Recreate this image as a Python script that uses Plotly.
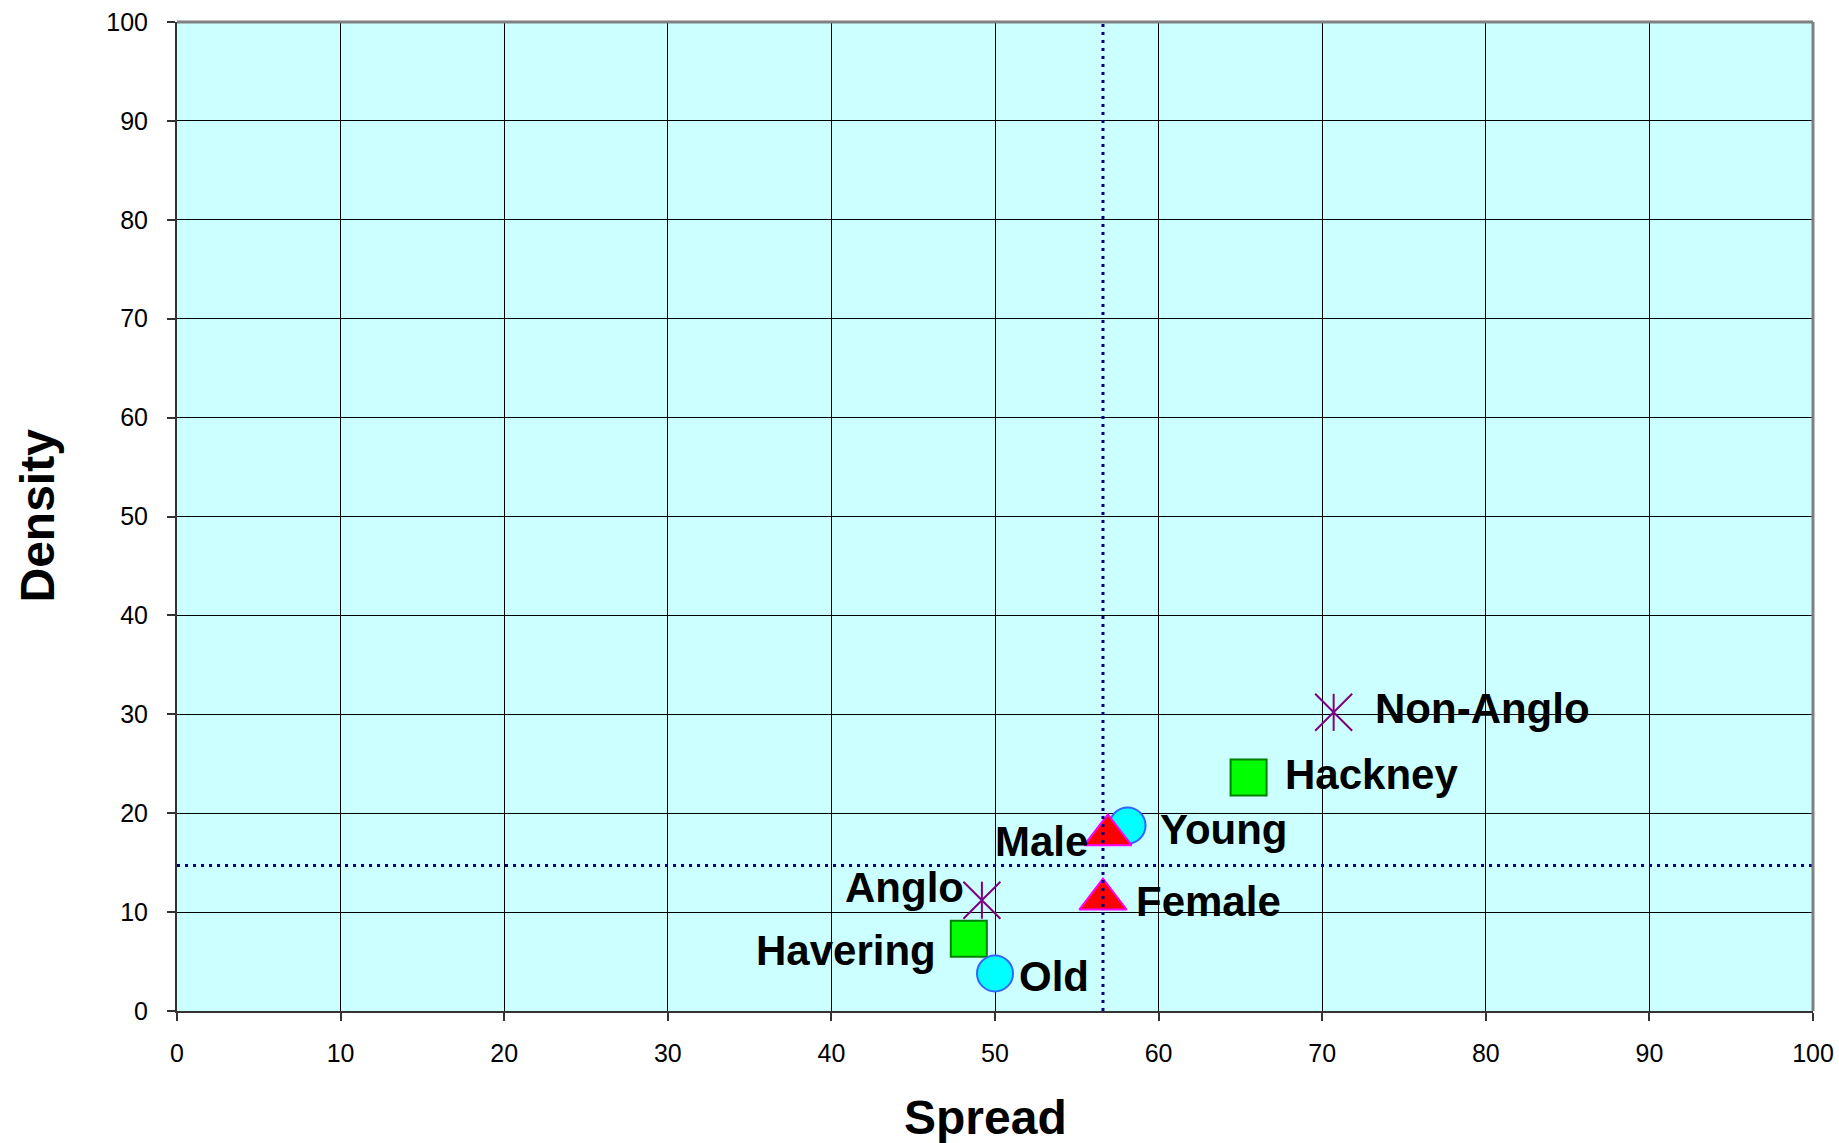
import plotly.graph_objects as go

# Spread vs density for each group (percent)
area_names = ["Havering", "Hackney"]
area_spread = [48.4, 65.5]
area_density = [7.3, 23.6]

age_names = ["Old", "Young"]
age_spread = [50.0, 58.1]
age_density = [3.8, 18.75]

sex_names = ["Male", "Female"]
sex_spread = [56.9, 56.6]
sex_density = [17.8, 11.3]

eth_names = ["Anglo", "Non-Anglo"]
eth_spread = [49.2, 70.7]
eth_density = [11.2, 30.2]

# Overall averages, drawn as dotted reference lines
mean_spread = 56.6
mean_density = 14.7

axis_ticks = list(range(0, 101, 10))

FONT = "Liberation Sans, Arial, sans-serif"

fig = go.Figure()

# Squares: boroughs
fig.add_trace(go.Scatter(
    x=area_spread, y=area_density, mode="markers", name="Area",
    marker=dict(symbol="square", size=36, color="#00FF00",
                line=dict(color="#008000", width=2)),
))
# Circles: age groups
fig.add_trace(go.Scatter(
    x=age_spread, y=age_density, mode="markers", name="Age",
    marker=dict(symbol="circle", size=36, color="#00FFFF",
                line=dict(color="#3366FF", width=2)),
))
# Triangles: sex
fig.add_trace(go.Scatter(
    x=sex_spread, y=sex_density, mode="markers", name="Sex",
    marker=dict(symbol="triangle-up", size=41, color="#FF0000",
                line=dict(color="#FF00FF", width=2)),
))
# Star markers: ethnicity (diagonal cross plus a vertical stroke)
fig.add_trace(go.Scatter(
    x=eth_spread, y=eth_density, mode="markers", name="Ethnicity",
    marker=dict(symbol="x-thin-open", size=37, color="#800080",
                line=dict(color="#800080", width=2)),
))
fig.add_trace(go.Scatter(
    x=eth_spread, y=eth_density, mode="markers", name="Ethnicity",
    showlegend=False, hoverinfo="skip",
    marker=dict(symbol="line-ns-open", size=26.5, color="#800080",
                line=dict(color="#800080", width=2)),
))

# Label placement: (anchor side, x shift px, y shift px)
label_place = {
    "Havering": ("right", -31, -12),
    "Hackney": ("left", 34, 3),
    "Old": ("left", 22, -3),
    "Young": ("left", 30, -4),
    "Male": ("right", -18, -7),
    "Female": ("left", 31, -2),
    "Anglo": ("right", -16, 13),
    "Non-Anglo": ("left", 39, 4),
}

annotations = []
for names, xs, ys in [(area_names, area_spread, area_density),
                      (age_names, age_spread, age_density),
                      (sex_names, sex_spread, sex_density),
                      (eth_names, eth_spread, eth_density)]:
    for n, xv, yv in zip(names, xs, ys):
        side, dx, dy = label_place[n]
        annotations.append(dict(
            x=xv, y=yv, xref="x", yref="y", text=n, showarrow=False,
            xanchor=side, yanchor="middle", xshift=dx, yshift=dy,
            font=dict(family=FONT, size=42, color="#000000", weight="bold"),
        ))

# Axis titles
annotations.append(dict(
    x=0.5, y=0, xref="paper", yref="paper", text="Spread", showarrow=False,
    xanchor="center", yanchor="middle", xshift=-10, yshift=-106,
    font=dict(family=FONT, size=48, color="#000000", weight="bold"),
))
annotations.append(dict(
    x=0, y=0.5, xref="paper", yref="paper", text="Density", showarrow=False,
    xanchor="center", yanchor="middle", xshift=-140, yshift=1, textangle=-90,
    font=dict(family=FONT, size=48, color="#000000", weight="bold"),
))

shapes = [
    # dotted average lines
    dict(type="line", xref="x", yref="paper", x0=mean_spread, x1=mean_spread,
         y0=0, y1=1, layer="above",
         line=dict(color="#000080", width=3, dash="3px,5px")),
    dict(type="line", xref="paper", yref="y", x0=0, x1=1,
         y0=mean_density, y1=mean_density, layer="above",
         line=dict(color="#000080", width=3, dash="3px,5px")),
    # grey frame on top and right
    dict(type="line", xref="paper", yref="paper", x0=0, x1=1, y0=1, y1=1,
         layer="above", line=dict(color="#808080", width=3)),
    dict(type="line", xref="paper", yref="paper", x0=1, x1=1, y0=0, y1=1,
         layer="above", line=dict(color="#808080", width=3)),
]

axis_common = dict(
    range=[0, 100], tickvals=axis_ticks, ticktext=[str(v) for v in axis_ticks],
    showgrid=True, gridcolor="#000000", gridwidth=1,
    showline=True, linecolor="#333333", linewidth=2,
    ticks="outside", ticklen=8, tickwidth=1.5, tickcolor="#333333",
    tickfont=dict(family=FONT, size=25, color="#000000"),
    zeroline=False, fixedrange=True, automargin=False,
)

fig.update_layout(
    width=1839, height=1143,
    margin=dict(l=177, r=26, t=22, b=132, autoexpand=False),
    paper_bgcolor="#FFFFFF", plot_bgcolor="#CCFFFF",
    showlegend=False,
    xaxis=dict(**axis_common, ticklabelstandoff=11),
    yaxis=dict(**axis_common, ticklabelstandoff=14),
    annotations=annotations,
    shapes=shapes,
)

fig.write_html("out.html")
